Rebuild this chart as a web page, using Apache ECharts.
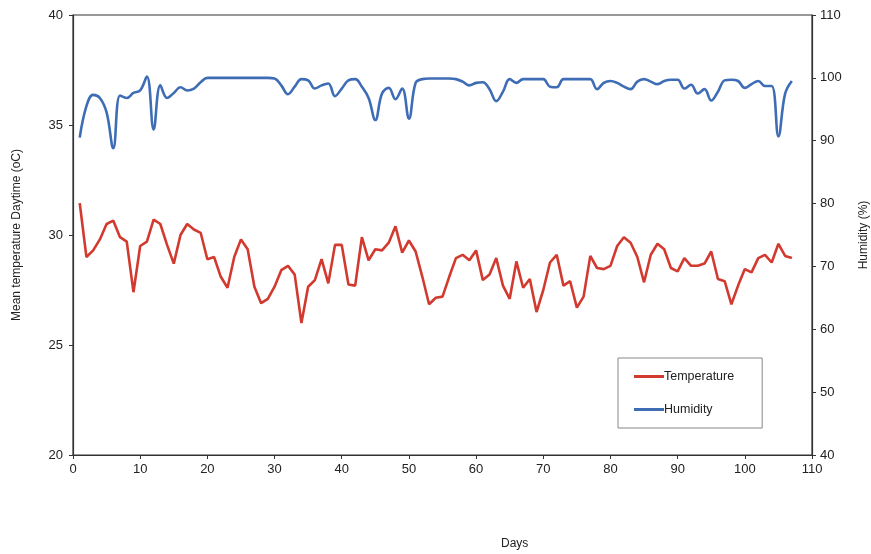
<!DOCTYPE html>
<html>
<head>
<meta charset="utf-8">
<script src="https://cdn.jsdelivr.net/npm/echarts@6/dist/echarts.min.js"></script>
<style>
  html, body { margin: 0; padding: 0; background: #fff; }
  #chart { width: 871px; height: 554px; }
</style>
</head>
<body>
<div id="chart"></div>
<script>
// days 1..107
const days = Array.from({ length: 107 }, (_, i) => i + 1);

// mean daytime temperature (oC), left axis
const temperature = [
  31.45, 29.0, 29.3, 29.8, 30.5, 30.65, 29.9, 29.7, 27.4, 29.5,
  29.7, 30.7, 30.5, 29.55, 28.7, 30.0, 30.5, 30.25, 30.1, 28.9,
  29.0, 28.1, 27.6, 29.0, 29.8, 29.35, 27.65, 26.9, 27.1, 27.65,
  28.4, 28.6, 28.2, 26.0, 27.65, 27.95, 28.9, 27.8, 29.55, 29.55,
  27.75, 27.7, 29.9, 28.85, 29.35, 29.3, 29.65, 30.4, 29.2, 29.75,
  29.25, 28.1, 26.85, 27.15, 27.2, 28.1, 28.95, 29.1, 28.85, 29.3,
  27.95, 28.2, 28.95, 27.7, 27.1, 28.8, 27.6, 28.0, 26.5, 27.5,
  28.75, 29.1, 27.7, 27.9, 26.7, 27.2, 29.05, 28.5, 28.45, 28.6,
  29.5, 29.9, 29.65, 29.0, 27.85, 29.1, 29.6, 29.35, 28.5, 28.35,
  28.95, 28.6, 28.6, 28.7, 29.25, 28.0, 27.9, 26.85, 27.7, 28.45,
  28.3, 28.95, 29.1, 28.75, 29.6, 29.05, 28.95
];

// humidity (%), right axis
const humidity = [
  90.5, 95.5, 97.3, 96.8, 94.5, 88.8, 97.2, 96.8, 97.6, 98.0,
  100.2, 91.8, 98.8, 96.8, 97.6, 98.5, 98.0, 98.3, 99.3, 100.0,
  100.0, 100.0, 100.0, 100.0, 100.0, 100.0, 100.0, 100.0, 100.0, 99.9,
  98.8, 97.4, 98.6, 99.8, 99.6, 98.3, 98.8, 99.1, 97.1, 98.3,
  99.6, 99.8, 98.6, 96.8, 93.3, 97.5, 98.4, 96.6, 98.3, 93.5,
  99.2, 99.8, 99.9, 99.9, 99.9, 99.9, 99.8, 99.4, 98.8, 99.2,
  99.3, 98.2, 96.3, 97.8, 99.8, 99.2, 99.8, 99.8, 99.8, 99.8,
  98.6, 98.5, 99.8, 99.8, 99.8, 99.8, 99.8, 98.2, 99.2, 99.5,
  99.2, 98.6, 98.2, 99.4, 99.8, 99.4, 99.0, 99.5, 99.7, 99.7,
  98.3, 98.9, 97.5, 98.2, 96.4, 97.8, 99.6, 99.7, 99.5, 98.4,
  99.0, 99.5, 98.7, 98.7, 90.7, 97.5, 99.5
];

const font = "Liberation Sans, Arial, sans-serif";
const axisLine = { show: true, lineStyle: { color: "#333", width: 1.2 } };
const tick = { show: true, inside: false, length: 4, lineStyle: { color: "#333" } };
const label = { color: "#222", fontSize: 13, fontFamily: font };

const chart = echarts.init(document.getElementById("chart"));
chart.setOption({
  backgroundColor: "#fff",
  animation: false,
  grid: {
    left: 73, right: 59, top: 15, bottom: 99,
    outerBoundsMode: "none", containLabel: false,
    show: true, borderColor: "#333", borderWidth: 1.2
  },
  title: {
    text: "Days", left: 496, top: 533,
    textStyle: { fontSize: 12, fontWeight: "normal", color: "#222", fontFamily: font }
  },
  legend: {
    orient: "vertical",
    left: 618, top: 358,
    padding: [12, 28, 12, 16],
    itemGap: 20,
    itemWidth: 30, itemHeight: 3,
    borderColor: "#888", borderWidth: 1,
    icon: "rect",
    textStyle: { color: "#222", fontSize: 12.5, fontFamily: font, padding: [0, 0, 0, -5] },
    data: ["Temperature", "Humidity"]
  },
  xAxis: {
    type: "value", min: 0, max: 110, interval: 10,
    axisLine: axisLine, axisTick: tick, splitLine: { show: false },
    axisLabel: Object.assign({ margin: 8 }, label)
  },
  yAxis: [
    {
      type: "value", min: 20, max: 40, interval: 5, position: "left",
      name: "Mean temperature Daytime (oC)", nameLocation: "middle", nameGap: 50,
      nameTextStyle: { color: "#222", fontSize: 12, fontFamily: font },
      axisLine: axisLine, axisTick: tick, splitLine: { show: false },
      axisLabel: Object.assign({ margin: 10 }, label)
    },
    {
      type: "value", min: 40, max: 110, interval: 10, position: "right",
      name: "Humidity (%)", nameLocation: "middle", nameGap: 46, nameRotate: 90,
      nameTextStyle: { color: "#222", fontSize: 12, fontFamily: font },
      axisLine: axisLine, axisTick: tick, splitLine: { show: false },
      axisLabel: Object.assign({ margin: 8 }, label)
    }
  ],
  series: [
    {
      name: "Temperature", type: "line", yAxisIndex: 0,
      data: days.map((d, i) => [d, temperature[i]]),
      showSymbol: false, smooth: false,
      lineStyle: { color: "#d23a2f", width: 2.6 },
      itemStyle: { color: "#d23a2f" }
    },
    {
      name: "Humidity", type: "line", yAxisIndex: 1,
      data: days.map((d, i) => [d, humidity[i]]),
      showSymbol: false, smooth: 0.4,
      lineStyle: { color: "#3e6db5", width: 2.6 },
      itemStyle: { color: "#3e6db5" }
    }
  ]
});
</script>
</body>
</html>
